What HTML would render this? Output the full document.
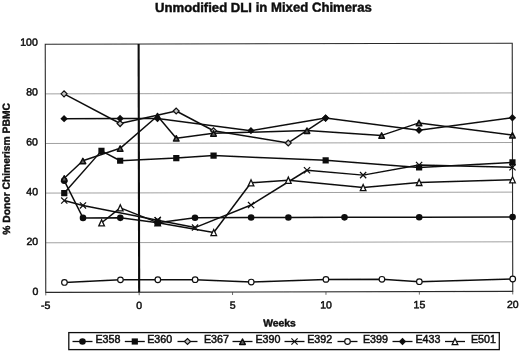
<!DOCTYPE html>
<html><head><meta charset="utf-8"><title>Unmodified DLI in Mixed Chimeras</title>
<style>
html,body{margin:0;padding:0;background:#fff;}
body{width:520px;height:351px;overflow:hidden;}
svg{display:block;font-family:"Liberation Sans",sans-serif;}
.t{font-size:10.5px;fill:#111;stroke:#111;stroke-width:0.5px;}
.b{font-weight:bold;fill:#111;stroke:#111;stroke-width:0.45px;}
</style></head><body>
<svg width="520" height="351" viewBox="0 0 520 351">
<defs><filter id="soft" x="0" y="0" width="520" height="351" filterUnits="userSpaceOnUse"><feGaussianBlur stdDeviation="0.38"/></filter></defs>
<rect width="520" height="351" fill="#fff"/>
<g filter="url(#soft)">
<g transform="rotate(-0.12 279 168)">

<line x1="45.5" x2="512.5" y1="242.3" y2="242.3" stroke="#8a8a8a" stroke-width="0.8"/>
<line x1="45.5" x2="512.5" y1="192.6" y2="192.6" stroke="#8a8a8a" stroke-width="0.8"/>
<line x1="45.5" x2="512.5" y1="143.0" y2="143.0" stroke="#8a8a8a" stroke-width="0.8"/>
<line x1="45.5" x2="512.5" y1="93.4" y2="93.4" stroke="#8a8a8a" stroke-width="0.8"/>
<rect x="45.5" y="43.75" width="467.0" height="248.14999999999998" fill="none" stroke="#2a2a2a" stroke-width="1.1"/>
<line x1="45.5" x2="45.5" y1="291.9" y2="294.9" stroke="#444" stroke-width="0.8"/>
<line x1="138.9" x2="138.9" y1="291.9" y2="294.9" stroke="#444" stroke-width="0.8"/>
<line x1="232.3" x2="232.3" y1="291.9" y2="294.9" stroke="#444" stroke-width="0.8"/>
<line x1="325.7" x2="325.7" y1="291.9" y2="294.9" stroke="#444" stroke-width="0.8"/>
<line x1="419.1" x2="419.1" y1="291.9" y2="294.9" stroke="#444" stroke-width="0.8"/>
<line x1="512.5" x2="512.5" y1="291.9" y2="294.9" stroke="#444" stroke-width="0.8"/>
<line x1="138.9" x2="138.9" y1="43.75" y2="291.9" stroke="#111" stroke-width="2.1"/>
<polyline points="64.2,180.2 82.9,217.5 120.2,217.5 157.6,222.4 194.9,217.5 251.0,217.5 288.3,217.5 344.4,217.5 419.1,217.5 512.5,217.5" fill="none" stroke="#111" stroke-width="1.5" stroke-linejoin="round"/>
<circle cx="64.2" cy="180.2" r="3.3" fill="#111"/>
<circle cx="82.9" cy="217.5" r="3.3" fill="#111"/>
<circle cx="120.2" cy="217.5" r="3.3" fill="#111"/>
<circle cx="157.6" cy="222.4" r="3.3" fill="#111"/>
<circle cx="194.9" cy="217.5" r="3.3" fill="#111"/>
<circle cx="251.0" cy="217.5" r="3.3" fill="#111"/>
<circle cx="288.3" cy="217.5" r="3.3" fill="#111"/>
<circle cx="344.4" cy="217.5" r="3.3" fill="#111"/>
<circle cx="419.1" cy="217.5" r="3.3" fill="#111"/>
<circle cx="512.5" cy="217.5" r="3.3" fill="#111"/>
<polyline points="64.2,192.6 101.5,150.5 120.2,160.4 176.3,157.9 213.6,155.4 325.7,160.4 419.1,167.8 512.5,162.9" fill="none" stroke="#111" stroke-width="1.5" stroke-linejoin="round"/>
<rect x="61.1" y="189.5" width="6.2" height="6.2" fill="#111"/>
<rect x="98.4" y="147.4" width="6.2" height="6.2" fill="#111"/>
<rect x="117.1" y="157.3" width="6.2" height="6.2" fill="#111"/>
<rect x="173.2" y="154.8" width="6.2" height="6.2" fill="#111"/>
<rect x="210.5" y="152.3" width="6.2" height="6.2" fill="#111"/>
<rect x="322.6" y="157.3" width="6.2" height="6.2" fill="#111"/>
<rect x="416.0" y="164.7" width="6.2" height="6.2" fill="#111"/>
<rect x="509.4" y="159.8" width="6.2" height="6.2" fill="#111"/>
<polyline points="64.2,93.4 120.2,123.2 176.3,110.8 213.6,130.6 288.3,143.0 325.7,118.2" fill="none" stroke="#111" stroke-width="1.5" stroke-linejoin="round"/>
<path d="M61.2 93.4L64.2 90.4L67.2 93.4L64.2 96.4Z" fill="#c4c4c4" stroke="#111" stroke-width="1.2"/>
<path d="M117.2 123.2L120.2 120.2L123.2 123.2L120.2 126.2Z" fill="#c4c4c4" stroke="#111" stroke-width="1.2"/>
<path d="M173.3 110.8L176.3 107.8L179.3 110.8L176.3 113.8Z" fill="#c4c4c4" stroke="#111" stroke-width="1.2"/>
<path d="M210.6 130.6L213.6 127.6L216.6 130.6L213.6 133.6Z" fill="#c4c4c4" stroke="#111" stroke-width="1.2"/>
<path d="M285.3 143.0L288.3 140.0L291.3 143.0L288.3 146.0Z" fill="#c4c4c4" stroke="#111" stroke-width="1.2"/>
<path d="M322.7 118.2L325.7 115.2L328.7 118.2L325.7 121.2Z" fill="#c4c4c4" stroke="#111" stroke-width="1.2"/>
<polyline points="64.2,177.8 82.9,160.4 120.2,148.0 157.6,115.7 176.3,138.0 213.6,133.1 307.0,130.6 381.7,135.6 419.1,123.2 512.5,135.6" fill="none" stroke="#111" stroke-width="1.5" stroke-linejoin="round"/>
<path d="M61.4 180.7L64.2 175.3L67.0 180.7Z" fill="#606060" stroke="#111" stroke-width="1.5" stroke-linejoin="round"/>
<path d="M80.1 163.3L82.9 157.9L85.7 163.3Z" fill="#606060" stroke="#111" stroke-width="1.5" stroke-linejoin="round"/>
<path d="M117.4 150.9L120.2 145.5L123.0 150.9Z" fill="#606060" stroke="#111" stroke-width="1.5" stroke-linejoin="round"/>
<path d="M154.8 118.6L157.6 113.2L160.4 118.6Z" fill="#606060" stroke="#111" stroke-width="1.5" stroke-linejoin="round"/>
<path d="M173.5 140.9L176.3 135.5L179.1 140.9Z" fill="#606060" stroke="#111" stroke-width="1.5" stroke-linejoin="round"/>
<path d="M210.8 136.0L213.6 130.6L216.4 136.0Z" fill="#606060" stroke="#111" stroke-width="1.5" stroke-linejoin="round"/>
<path d="M304.2 133.5L307.0 128.1L309.8 133.5Z" fill="#606060" stroke="#111" stroke-width="1.5" stroke-linejoin="round"/>
<path d="M378.9 138.5L381.7 133.1L384.5 138.5Z" fill="#606060" stroke="#111" stroke-width="1.5" stroke-linejoin="round"/>
<path d="M416.3 126.1L419.1 120.7L421.9 126.1Z" fill="#606060" stroke="#111" stroke-width="1.5" stroke-linejoin="round"/>
<path d="M509.7 138.5L512.5 133.1L515.3 138.5Z" fill="#606060" stroke="#111" stroke-width="1.5" stroke-linejoin="round"/>
<polyline points="64.2,200.1 82.9,205.0 157.6,219.9 194.9,227.4 251.0,205.0 307.0,170.3 363.1,175.3 419.1,165.3 512.5,167.8" fill="none" stroke="#111" stroke-width="1.5" stroke-linejoin="round"/>
<path d="M61.1 197.0L67.3 203.2M61.1 203.2L67.3 197.0" fill="none" stroke="#111" stroke-width="1.2"/>
<path d="M79.8 201.9L86.0 208.1M79.8 208.1L86.0 201.9" fill="none" stroke="#111" stroke-width="1.2"/>
<path d="M154.5 216.8L160.7 223.0M154.5 223.0L160.7 216.8" fill="none" stroke="#111" stroke-width="1.2"/>
<path d="M191.8 224.3L198.0 230.5M191.8 230.5L198.0 224.3" fill="none" stroke="#111" stroke-width="1.2"/>
<path d="M247.9 201.9L254.1 208.1M247.9 208.1L254.1 201.9" fill="none" stroke="#111" stroke-width="1.2"/>
<path d="M303.9 167.2L310.1 173.4M303.9 173.4L310.1 167.2" fill="none" stroke="#111" stroke-width="1.2"/>
<path d="M360.0 172.2L366.2 178.4M360.0 178.4L366.2 172.2" fill="none" stroke="#111" stroke-width="1.2"/>
<path d="M416.0 162.2L422.2 168.4M416.0 168.4L422.2 162.2" fill="none" stroke="#111" stroke-width="1.2"/>
<path d="M509.4 164.7L515.6 170.9M509.4 170.9L515.6 164.7" fill="none" stroke="#111" stroke-width="1.2"/>
<polyline points="64.2,282.0 120.2,279.5 157.6,279.5 194.9,279.5 251.0,282.0 325.7,279.5 381.7,279.5 419.1,282.0 512.5,279.5" fill="none" stroke="#111" stroke-width="1.5" stroke-linejoin="round"/>
<circle cx="64.2" cy="282.0" r="2.8" fill="#fff" stroke="#111" stroke-width="1.2"/>
<circle cx="120.2" cy="279.5" r="2.8" fill="#fff" stroke="#111" stroke-width="1.2"/>
<circle cx="157.6" cy="279.5" r="2.8" fill="#fff" stroke="#111" stroke-width="1.2"/>
<circle cx="194.9" cy="279.5" r="2.8" fill="#fff" stroke="#111" stroke-width="1.2"/>
<circle cx="251.0" cy="282.0" r="2.8" fill="#fff" stroke="#111" stroke-width="1.2"/>
<circle cx="325.7" cy="279.5" r="2.8" fill="#fff" stroke="#111" stroke-width="1.2"/>
<circle cx="381.7" cy="279.5" r="2.8" fill="#fff" stroke="#111" stroke-width="1.2"/>
<circle cx="419.1" cy="282.0" r="2.8" fill="#fff" stroke="#111" stroke-width="1.2"/>
<circle cx="512.5" cy="279.5" r="2.8" fill="#fff" stroke="#111" stroke-width="1.2"/>
<polyline points="64.2,118.2 120.2,118.2 157.6,118.2 251.0,130.6 325.7,118.2 419.1,130.6 512.5,118.2" fill="none" stroke="#111" stroke-width="1.5" stroke-linejoin="round"/>
<path d="M60.5 118.2L64.2 114.5L67.9 118.2L64.2 121.9Z" fill="#111"/>
<path d="M116.5 118.2L120.2 114.5L123.9 118.2L120.2 121.9Z" fill="#111"/>
<path d="M153.9 118.2L157.6 114.5L161.3 118.2L157.6 121.9Z" fill="#111"/>
<path d="M247.3 130.6L251.0 126.9L254.7 130.6L251.0 134.3Z" fill="#111"/>
<path d="M322.0 118.2L325.7 114.5L329.4 118.2L325.7 121.9Z" fill="#111"/>
<path d="M415.4 130.6L419.1 126.9L422.8 130.6L419.1 134.3Z" fill="#111"/>
<path d="M508.8 118.2L512.5 114.5L516.2 118.2L512.5 121.9Z" fill="#111"/>
<polyline points="101.5,222.4 120.2,207.5 157.6,222.4 213.6,232.3 251.0,182.7 288.3,180.2 363.1,187.7 419.1,182.7 512.5,180.2" fill="none" stroke="#111" stroke-width="1.5" stroke-linejoin="round"/>
<path d="M98.7 225.5L101.5 219.4L104.3 225.5Z" fill="#fff" stroke="#111" stroke-width="1.3"/>
<path d="M117.4 210.6L120.2 204.5L123.0 210.6Z" fill="#fff" stroke="#111" stroke-width="1.3"/>
<path d="M154.8 225.5L157.6 219.4L160.4 225.5Z" fill="#fff" stroke="#111" stroke-width="1.3"/>
<path d="M210.8 235.4L213.6 229.3L216.4 235.4Z" fill="#fff" stroke="#111" stroke-width="1.3"/>
<path d="M248.2 185.8L251.0 179.7L253.8 185.8Z" fill="#fff" stroke="#111" stroke-width="1.3"/>
<path d="M285.5 183.3L288.3 177.2L291.1 183.3Z" fill="#fff" stroke="#111" stroke-width="1.3"/>
<path d="M360.3 190.8L363.1 184.7L365.9 190.8Z" fill="#fff" stroke="#111" stroke-width="1.3"/>
<path d="M416.3 185.8L419.1 179.7L421.9 185.8Z" fill="#fff" stroke="#111" stroke-width="1.3"/>
<path d="M509.7 183.3L512.5 177.2L515.3 183.3Z" fill="#fff" stroke="#111" stroke-width="1.3"/>
<rect x="154.5" y="219.3" width="6.2" height="6.2" fill="#111"/>
<path d="M154.5 216.8L160.7 223.0M154.5 223.0L160.7 216.8" fill="none" stroke="#111" stroke-width="1.2"/>
<text class="b" x="263.7" y="11.8" font-size="13.15" text-anchor="middle">Unmodified DLI in Mixed Chimeras</text>
<text class="t" x="38" y="294.4" text-anchor="end">0</text>
<text class="t" x="38" y="244.6" text-anchor="end">20</text>
<text class="t" x="38" y="194.7" text-anchor="end">40</text>
<text class="t" x="38" y="144.9" text-anchor="end">60</text>
<text class="t" x="38" y="95.0" text-anchor="end">80</text>
<text class="t" x="38" y="45.2" text-anchor="end">100</text>
<text class="t" x="45.5" y="308.6" text-anchor="middle">-5</text>
<text class="t" x="138.9" y="308.6" text-anchor="middle">0</text>
<text class="t" x="232.3" y="308.6" text-anchor="middle">5</text>
<text class="t" x="325.7" y="308.6" text-anchor="middle">10</text>
<text class="t" x="419.1" y="308.6" text-anchor="middle">15</text>
<text class="t" x="512.5" y="308.6" text-anchor="middle">20</text>
<text class="b" x="279.2" y="326.5" font-size="10.3" text-anchor="middle">Weeks</text>
<text class="b" font-size="10.3" text-anchor="middle" transform="translate(9.8,168.3) rotate(-90)">% Donor Chimerism PBMC</text>
</g>
<rect x="68.8" y="332.6" width="430.5" height="17.0" fill="#fff" stroke="#111" stroke-width="1.3"/>
<line x1="72.5" x2="92.5" y1="341.5" y2="341.5" stroke="#111" stroke-width="1.3"/>
<circle cx="82.5" cy="341.5" r="3.3" fill="#111"/>
<text class="t" style="font-size:10.7px" x="95.4" y="343.4">E358</text>
<line x1="124.8" x2="144.8" y1="341.5" y2="341.5" stroke="#111" stroke-width="1.3"/>
<rect x="131.7" y="338.4" width="6.2" height="6.2" fill="#111"/>
<text class="t" style="font-size:10.7px" x="147.2" y="343.4">E360</text>
<line x1="177.5" x2="197.5" y1="341.5" y2="341.5" stroke="#111" stroke-width="1.3"/>
<path d="M184.5 341.5L187.5 338.5L190.5 341.5L187.5 344.5Z" fill="#c4c4c4" stroke="#111" stroke-width="1.2"/>
<text class="t" style="font-size:10.7px" x="203.9" y="343.4">E367</text>
<line x1="232.5" x2="252.5" y1="341.5" y2="341.5" stroke="#111" stroke-width="1.3"/>
<path d="M239.7 344.4L242.5 339.0L245.3 344.4Z" fill="#606060" stroke="#111" stroke-width="1.5" stroke-linejoin="round"/>
<text class="t" style="font-size:10.7px" x="255.4" y="343.4">E390</text>
<line x1="284.5" x2="304.5" y1="341.5" y2="341.5" stroke="#111" stroke-width="1.3"/>
<path d="M291.4 338.4L297.6 344.6M291.4 344.6L297.6 338.4" fill="none" stroke="#111" stroke-width="1.2"/>
<text class="t" style="font-size:10.7px" x="307.2" y="343.4">E392</text>
<line x1="337.5" x2="357.5" y1="341.5" y2="341.5" stroke="#111" stroke-width="1.3"/>
<circle cx="347.5" cy="341.5" r="2.8" fill="#fff" stroke="#111" stroke-width="1.2"/>
<text class="t" style="font-size:10.7px" x="362.9" y="343.4">E399</text>
<line x1="392.5" x2="412.5" y1="341.5" y2="341.5" stroke="#111" stroke-width="1.3"/>
<path d="M398.8 341.5L402.5 337.8L406.2 341.5L402.5 345.2Z" fill="#111"/>
<text class="t" style="font-size:10.7px" x="415.4" y="343.4">E433</text>
<line x1="445" x2="465" y1="341.5" y2="341.5" stroke="#111" stroke-width="1.3"/>
<path d="M452.2 344.6L455.0 338.5L457.8 344.6Z" fill="#fff" stroke="#111" stroke-width="1.3"/>
<text class="t" style="font-size:10.7px" x="470.9" y="343.4">E501</text>
</g></svg></body></html>
